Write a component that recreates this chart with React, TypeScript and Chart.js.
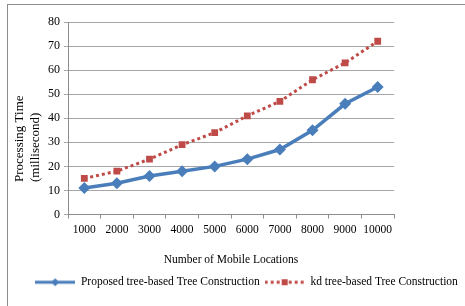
import React, { useEffect, useRef } from "react";
import { Chart, registerables } from "chart.js";

Chart.register(...registerables);

const categories = ["1000", "2000", "3000", "4000", "5000", "6000", "7000", "8000", "9000", "10000"];
const proposedValues = [11, 13, 16, 18, 20, 23, 27, 35, 46, 53];
const kdValues = [15, 18, 23, 29, 34, 41, 47, 56, 63, 72];
const seriesNames = ["Proposed tree-based Tree Construction", "kd tree-based Tree Construction"];
const yTitle = ["Processing Time", "(millisecond)"];
const xTitle = "Number of Mobile Locations";

const BLUE = "#4A7EBB";
const RED = "#BE4B48";
const FONT = "'Liberation Serif', 'Times New Roman', serif";
const FS = 11.5;

function makeLegendIcon(color: string, dashed: boolean, marker: "diamond" | "square"): HTMLCanvasElement {
  const c = document.createElement("canvas");
  c.width = 40;
  c.height = 12;
  const ctx = c.getContext("2d")!;
  ctx.strokeStyle = color;
  ctx.fillStyle = color;
  ctx.lineWidth = 3;
  if (dashed) ctx.setLineDash([3, 3]);
  ctx.beginPath();
  ctx.moveTo(0, 6);
  ctx.lineTo(40, 6);
  ctx.stroke();
  ctx.setLineDash([]);
  if (marker === "diamond") {
    ctx.beginPath();
    ctx.moveTo(20, 2);
    ctx.lineTo(24, 6);
    ctx.lineTo(20, 10);
    ctx.lineTo(16, 6);
    ctx.closePath();
    ctx.fill();
  } else {
    ctx.fillRect(17, 3, 6, 6);
  }
  return c;
}

const borderPlugin = {
  id: "outerBorder",
  beforeDraw(chart: any) {
    const ctx = chart.ctx;
    ctx.save();
    ctx.fillStyle = "#ffffff";
    ctx.fillRect(0, 0, chart.width, chart.height);
    ctx.strokeStyle = "#8c8c8c";
    ctx.lineWidth = 1;
    ctx.strokeRect(7.5, 4.5, 600, 400);
    ctx.restore();
  },
  afterLayout(chart: any) {
    const lg = chart.legend;
    if (lg) {
      lg.left += 10;
      lg.right += 10;
    }
  },
};

export default function App() {
  const ref = useRef<HTMLCanvasElement>(null);
  useEffect(() => {
    const icons = [makeLegendIcon(BLUE, false, "diamond"), makeLegendIcon(RED, true, "square")];
    const chart = new Chart(ref.current!, {
      type: "line",
      data: {
        labels: categories,
        datasets: [
          {
            label: seriesNames[0],
            data: proposedValues,
            borderColor: BLUE,
            backgroundColor: BLUE,
            borderWidth: 3.5,
            pointStyle: "rectRot",
            pointRadius: 6,
            pointBorderWidth: 0,
            tension: 0,
          },
          {
            label: seriesNames[1],
            data: kdValues,
            borderColor: RED,
            backgroundColor: RED,
            borderWidth: 3,
            borderDash: [3, 3],
            pointStyle: "rect",
            pointRadius: 4.8,
            pointBorderWidth: 0,
            tension: 0,
          },
        ],
      },
      options: {
        animation: false,
        responsive: false,
        devicePixelRatio: 1,
        layout: { padding: { left: 8, right: 0, top: 22, bottom: 8 } },
        plugins: {
          tooltip: { enabled: false },
          legend: {
            display: true,
            position: "bottom",
            labels: {
              usePointStyle: true,
              pointStyleWidth: 40,
              padding: 5,
              color: "#000",
              font: { family: FONT, size: FS },
              generateLabels: (ch: any) =>
                ch.data.datasets.map((ds: any, i: number) => ({
                  text: ds.label,
                  pointStyle: icons[i],
                  fillStyle: ds.borderColor,
                  strokeStyle: ds.borderColor,
                  lineWidth: 0,
                  hidden: false,
                  datasetIndex: i,
                  fontColor: "#000",
                })),
            },
          },
        },
        scales: {
          x: {
            offset: true,
            grid: {
              display: true,
              offset: true,
              drawOnChartArea: false,
              drawTicks: true,
              tickLength: 4,
              color: "#8c8c8c",
            },
            border: { display: true, color: "#8c8c8c", width: 1 },
            ticks: { color: "#000", font: { family: FONT, size: FS }, padding: 5, maxRotation: 0, autoSkip: false },
            title: {
              display: true,
              text: xTitle,
              color: "#000",
              font: { family: FONT, size: FS },
              padding: { top: 4, bottom: 5 },
            },
            afterFit: (s: any) => {
              s.height = 57;
            },
          },
          y: {
            min: 0,
            max: 80,
            grid: { color: "#a6a6a6", lineWidth: 1, tickLength: 4, drawTicks: true },
            border: { display: true, color: "#8c8c8c" },
            ticks: { stepSize: 10, color: "#000", font: { family: FONT, size: 12 }, padding: 4 },
            title: {
              display: true,
              align: "start",
              text: yTitle.map((t) => "\u0020".repeat(10) + t),
              color: "#000",
              font: { family: FONT, size: 13 },
              padding: { top: 4, bottom: 0 },
            },
            afterFit: (s: any) => {
              s.width = 60;
            },
          },
          yR: {
            type: "linear",
            position: "right",
            display: true,
            grid: { display: false },
            border: { display: false },
            ticks: { display: false },
            afterFit: (s: any) => {
              s.width = 71;
            },
          },
        },
      },
      plugins: [borderPlugin],
    });
    return () => chart.destroy();
  }, []);
  return (
    <canvas
      ref={ref}
      width={465}
      height={306}
      style={{ position: "absolute", left: 0, top: 0, width: 465, height: 306 }}
    />
  );
}
